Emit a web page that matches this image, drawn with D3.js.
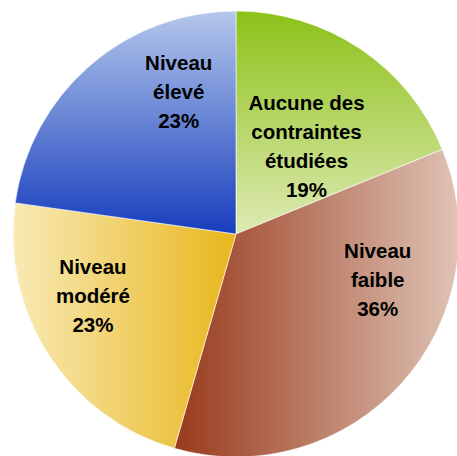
<!DOCTYPE html>
<html>
<head>
<meta charset="utf-8">
<script src="https://cdn.jsdelivr.net/npm/d3@7"></script>
<style>
  html, body { margin: 0; padding: 0; background: #fff; }
  svg { display: block; }
</style>
</head>
<body>
<div class="container"></div>
<script>
// donnees du graphique
var categories = ['Aucune des contraintes étudiées', 'Niveau faible', 'Niveau modéré', 'Niveau élevé']
var values = [19, 36, 23, 23]
var labelLines = [
    ['Aucune des', 'contraintes', 'étudiées', '19%'],
    ['Niveau', 'faible', '36%'],
    ['Niveau', 'modéré', '23%'],
    ['Niveau', 'élevé', '23%']
]

// couleurs des degradés (debut -> fin) et direction
var gradients = [
    { from: '#8cc118', to: '#deeab4', x2: 0, y2: 1 },
    { from: '#983a1c', to: '#dfc3b5', x2: 1, y2: 0 },
    { from: '#f8eab6', to: '#e8b61c', x2: 1, y2: 0 },
    { from: '#b4c7eb', to: '#173dbd', x2: 0, y2: 1 }
]

// placement des etiquettes (angle en degres, distance au centre)
var labelPlace = [
    { a: 39, r: 112 },
    { a: 108, r: 149 },
    { a: 246.5, r: 156 },
    { a: 338, r: 153 }
]

var w = 457, h = 456
var cx = 236, cy = 234
var radius = 223
var lineH = 29

var svg = d3.select('.container')
    .append('svg')
    .attr('width', w)
    .attr('height', h)

var defs = svg.append('defs')

gradients.forEach(function (g, i) {
    var lg = defs.append('linearGradient')
        .attr('id', 'grad' + i)
        .attr('x1', 0).attr('y1', 0)
        .attr('x2', g.x2).attr('y2', g.y2)
    lg.append('stop').attr('offset', '0%').attr('stop-color', g.from)
    lg.append('stop').attr('offset', '100%').attr('stop-color', g.to)
})

var pie = d3.pie().sort(null).value(d => d)
var arc = d3.arc().innerRadius(0).outerRadius(radius)

var g1 = svg.append('g')
    .attr('transform', 'translate(' + cx + ',' + cy + ')')

var arcs = pie(values)

g1.selectAll('.slice')
    .data(arcs)
    .enter()
    .append('path')
    .attr('class', 'slice')
    .attr('d', arc)
    .style('fill', (d, i) => 'url(#grad' + i + ')')
    .style('stroke', '#ffffff')
    .style('stroke-width', 0.6)

var labels = g1.selectAll('.lbl')
    .data(arcs)
    .enter()
    .append('text')
    .attr('class', 'lbl')
    .attr('transform', function (d, i) {
        var p = labelPlace[i]
        var ang = p.a * Math.PI / 180
        var x = Math.sin(ang) * p.r
        var y = -Math.cos(ang) * p.r
        return 'translate(' + x + ',' + y + ')'
    })
    .style('font-family', '"Liberation Sans", Arial, sans-serif')
    .style('font-weight', 'bold')
    .style('font-size', '20.5px')
    .style('fill', '#000')
    .attr('text-anchor', 'middle')

labels.each(function (d, i) {
    var lines = labelLines[i]
    var n = lines.length
    d3.select(this).selectAll('tspan')
        .data(lines)
        .enter()
        .append('tspan')
        .attr('x', 0)
        .attr('y', (t, j) => (j - (n - 1) / 2) * lineH + 7)
        .text(t => t)
})
</script>
</body>
</html>
